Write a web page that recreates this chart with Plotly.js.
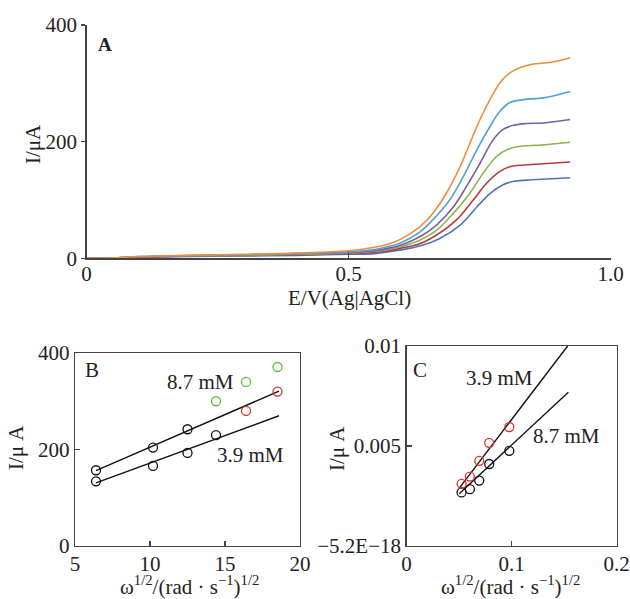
<!DOCTYPE html>
<html><head><meta charset="utf-8">
<script src="https://cdn.plot.ly/plotly-3.0.1.min.js"></script>
<style>html,body{margin:0;padding:0;background:#fff}#c{width:630px;height:599px}</style>
</head><body><div id="c"></div>
<script>
// ---- Panel A data (E / V vs I / uA) ----
const lowE = [0, 0.02, 0.04, 0.06, 0.1, 0.2, 0.3, 0.4, 0.5, 0.55];
const orangeE = [0.575, 0.598, 0.636, 0.661, 0.687, 0.713, 0.732, 0.751, 0.770, 0.789, 0.808, 0.828, 0.853, 0.885, 0.923];
const orangeI = [0, 0, 0.5, 1, 3, 5, 7, 9, 13, 19, 24, 32, 54, 77, 112, 157, 198, 238, 272, 301, 318, 327, 333, 336, 344];
const cyanE = [0.575, 0.598, 0.636, 0.661, 0.693, 0.719, 0.745, 0.770, 0.789, 0.808, 0.834, 0.872, 0.923];
const cyanI = [0, 0, 0.5, 1, 3, 5, 6, 8, 11, 15, 20, 26, 45, 66, 100, 140, 186, 226, 252, 267, 272, 275, 286];
const purpleE = [0.575, 0.598, 0.636, 0.668, 0.700, 0.725, 0.751, 0.776, 0.795, 0.815, 0.840, 0.872, 0.923];
const purpleI = [0, 0, 0.5, 1, 2, 4, 6, 8, 10, 13, 17, 22, 37, 57, 88, 123, 163, 203, 221, 228, 231, 232, 238];
const greenE = [0.575, 0.598, 0.636, 0.668, 0.700, 0.732, 0.757, 0.783, 0.802, 0.828, 0.866, 0.923];
const greenI = [0, 0, 0.5, 1, 2, 4, 5, 7, 9, 12, 15, 19.5, 31, 48, 77, 112, 146, 175, 186, 192, 194, 199];
const redE = [0.575, 0.598, 0.636, 0.668, 0.706, 0.738, 0.764, 0.789, 0.808, 0.834, 0.872, 0.923];
const redI = [0, 0, 0.5, 1, 2, 4, 5, 6, 8, 10, 13, 17, 25, 40, 66, 100, 129, 149, 157, 160, 162, 165];
const blueE = [0.575, 0.598, 0.636, 0.674, 0.713, 0.745, 0.770, 0.795, 0.815, 0.840, 0.879, 0.923];
const blueI = [0, 0, 0.5, 1, 2, 3, 4, 5, 7, 8, 11, 14, 21, 34, 57, 88, 111, 126, 132, 134, 136, 138];

// ---- Panel B data ----
const bUpperX = [6.4, 10.2, 12.5];
const bUpperY = [157, 204, 242];
const bRedX = [16.4, 18.5];
const bRedY = [280, 320];
const bGreenX = [14.4, 16.4, 18.5];
const bGreenY = [300, 340, 371];
const bLowerX = [6.4, 10.2, 12.5, 14.4];
const bLowerY = [134, 166, 193, 230];
const bFitUpX = [6.4, 18.6];
const bFitUpY = [156, 321];
const bFitLowX = [6.4, 18.6];
const bFitLowY = [131, 270];

// ---- Panel C data ----
const cX = [0.0524, 0.0603, 0.0692, 0.0787, 0.0978];
const cRedY = [0.00311, 0.00347, 0.00426, 0.00516, 0.00595];
const cBlackY = [0.00268, 0.00284, 0.00327, 0.00410, 0.00476];
const cFit39X = [0.0502, 0.1533];
const cFit39Y = [0.00289, 0.0100];
const cFit87X = [0.0502, 0.154];
const cFit87Y = [0.00261, 0.00769];

const FONT = 'Liberation Serif, Times New Roman, serif';
const TXT = '#222';
const AX = '#444';

function curve(eHigh, iAll, color) {
  return {x: lowE.concat(eHigh), y: iAll, type: 'scatter', mode: 'lines',
    line: {color: color, width: 1.6, shape: 'spline', smoothing: 1.0}, xaxis: 'x', yaxis: 'y', hoverinfo: 'skip'};
}
function pts(x, y, color, ax) {
  return {x: x, y: y, type: 'scatter', mode: 'markers', xaxis: 'x' + ax, yaxis: 'y' + ax,
    marker: {symbol: 'circle-open', size: 9, color: color, line: {width: 1.3, color: color}}};
}
function fit(x, y, ax) {
  return {x: x, y: y, type: 'scatter', mode: 'lines', xaxis: 'x' + ax, yaxis: 'y' + ax,
    line: {color: '#111', width: 1.4}};
}

const data = [
  curve(blueE, blueI, '#4F74BA'),
  curve(redE, redI, '#B83A3E'),
  curve(greenE, greenI, '#8DB44E'),
  curve(purpleE, purpleI, '#7A5CA6'),
  curve(cyanE, cyanI, '#4FA3CF'),
  curve(orangeE, orangeI, '#F08C3A'),
  fit(bFitUpX, bFitUpY, 2), fit(bFitLowX, bFitLowY, 2),
  pts(bUpperX, bUpperY, '#111', 2), pts(bLowerX, bLowerY, '#111', 2),
  pts(bRedX, bRedY, '#D8302C', 2), pts(bGreenX, bGreenY, '#62BD4A', 2),
  fit(cFit39X, cFit39Y, 3), fit(cFit87X, cFit87Y, 3),
  pts(cX, cBlackY, '#111', 3), pts(cX, cRedY, '#E0302C', 3)
];

const W = 630, H = 599;
const px = v => v / W, py = v => 1 - v / H;
const common = {showgrid: false, zeroline: false, showline: true, linecolor: AX, linewidth: 1.3,
  tickcolor: AX, tickwidth: 1.2, tickfont: {family: FONT, size: 21, color: TXT}};

const layout = {
  width: W, height: H, margin: {l: 0, r: 0, t: 0, b: 0},
  paper_bgcolor: '#fff', plot_bgcolor: '#fff', showlegend: false,
  font: {family: FONT, size: 21, color: TXT},
  xaxis: Object.assign({}, common, {domain: [px(86.5), px(610.5)], range: [0, 1], anchor: 'y',
    tickvals: [0, 0.5, 1], ticktext: ['0', '0.5', '1.0'], ticks: 'inside', ticklen: 6, ticklabelstandoff: -4}),
  yaxis: Object.assign({}, common, {domain: [py(258.3), py(25)], range: [0, 400], anchor: 'x',
    tickvals: [0, 200, 400], ticks: 'outside', ticklen: 4}),
  xaxis2: Object.assign({}, common, {domain: [px(75), px(300)], range: [5, 20], anchor: 'y2',
    tickvals: [5, 10, 15, 20], ticks: 'inside', ticklen: 5, mirror: true, ticklabelstandoff: -2}),
  yaxis2: Object.assign({}, common, {domain: [py(546), py(353)], range: [0, 400], anchor: 'x2',
    tickvals: [0, 200, 400], ticks: 'inside', ticklen: 5, mirror: true}),
  xaxis3: Object.assign({}, common, {domain: [px(406.5), px(616.7)], range: [0, 0.2], anchor: 'y3',
    tickvals: [0, 0.1, 0.2], ticktext: ['0', '0.1', '0.2'], ticks: 'inside', ticklen: 5, mirror: true, ticklabelstandoff: -2}),
  yaxis3: Object.assign({}, common, {domain: [py(546), py(346)], range: [0, 0.01], anchor: 'x3',
    tickvals: [0, 0.005, 0.01], ticktext: ['\u22125.2E\u221218', '0.005', '0.01'], ticks: 'inside', ticklen: 5, mirror: true}),
  annotations: [
    {text: '<b>A</b>', x: px(104.5), y: py(44), size: 19},
    {text: 'E/V(Ag|AgCl)', x: px(349), y: py(298)},
    {text: 'I/\u03bcA', x: px(33), y: py(144), textangle: -90},
    {text: 'B', x: px(92), y: py(370)},
    {text: '8.7 mM', x: px(200), y: py(382)},
    {text: '3.9 mM', x: px(250), y: py(455)},
    {text: 'I/\u03bc A', x: px(16), y: py(448), textangle: -90},
    {text: '\u03c9<sup>1/2</sup>/(rad \u00b7 s<sup>\u22121</sup>)<sup>1/2</sup>', x: px(189), y: py(585)},
    {text: 'C', x: px(420), y: py(370)},
    {text: '3.9 mM', x: px(499), y: py(378)},
    {text: '8.7 mM', x: px(566), y: py(436)},
    {text: 'I/\u03bc A', x: px(337), y: py(449), textangle: -90},
    {text: '\u03c9<sup>1/2</sup>/(rad \u00b7 s<sup>\u22121</sup>)<sup>1/2</sup>', x: px(510), y: py(585)}
  ].map(a => ({text: a.text, x: a.x, y: a.y, xref: 'paper', yref: 'paper', showarrow: false,
    xanchor: 'center', yanchor: 'middle', textangle: a.textangle || 0,
    font: {family: FONT, size: a.size || 21, color: TXT}}))
};

Plotly.newPlot('c', data, layout, {staticPlot: true, displayModeBar: false});
</script></body></html>
